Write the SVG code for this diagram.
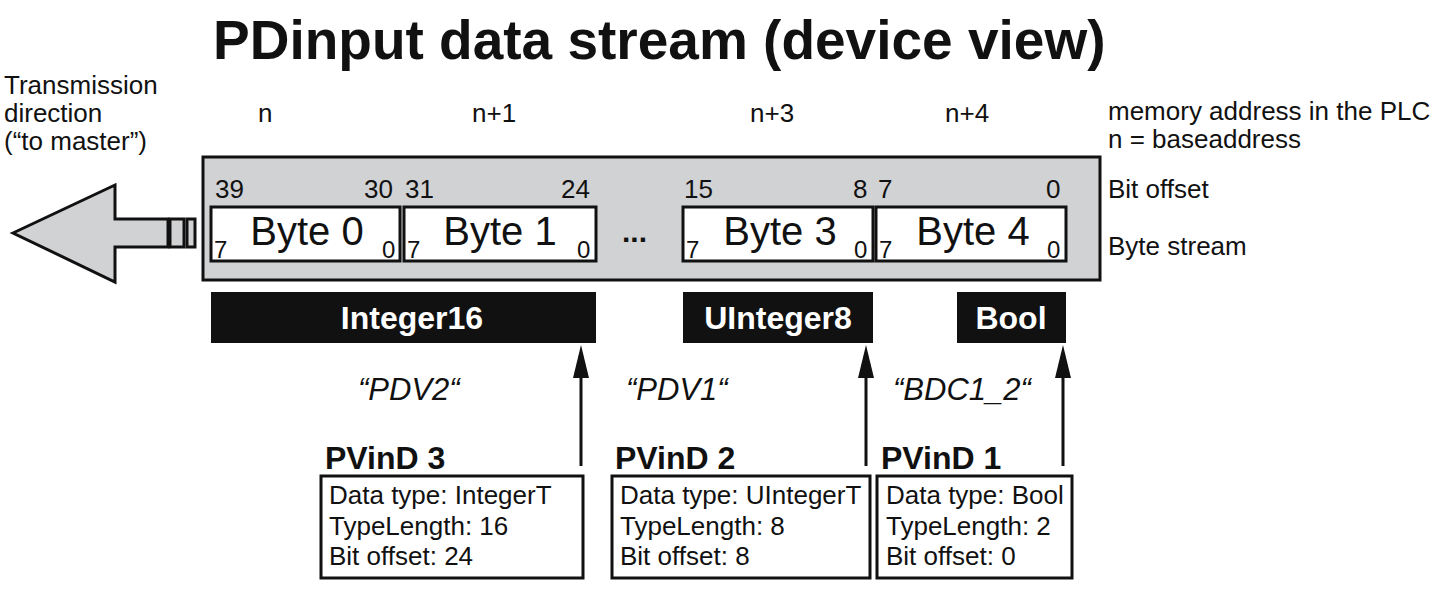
<svg xmlns="http://www.w3.org/2000/svg" width="1445" height="592" viewBox="0 0 1445 592">
<style>
text{font-family:"Liberation Sans",Arial,sans-serif;fill:#111}
.t{font-size:26px}
.b{font-size:40px}
.s{font-size:24px}
.bx{fill:#fff;stroke:#111;stroke-width:3}
.bar{fill:#111}
.bl{font-size:32px;font-weight:bold;fill:#fff}
.lbl{font-size:32px;font-weight:bold}
.q{font-size:31px;font-style:italic}
.c{stroke:#111;stroke-width:3;fill:none}
.ah{fill:#111}
</style>
<text x="213" y="59" style="font-size:55px;font-weight:bold">PDinput data stream (device view)</text>
<g id="dir"><text class="t" x="4" y="94">Transmission</text><text class="t" x="4" y="122">direction</text><text class="t" x="4" y="150">(“to master”)</text></g>
<g id="addr"><text class="t" x="258" y="122">n</text><text class="t" x="472" y="122">n+1</text><text class="t" x="750" y="122">n+3</text><text class="t" x="945" y="122">n+4</text>
<text class="t" x="1108" y="120">memory address in the PLC</text><text class="t" x="1108" y="148">n = baseaddress</text>
<text class="t" x="1108" y="198">Bit offset</text><text class="t" x="1108" y="255">Byte stream</text></g>
<g id="arrow"><polygon points="13,233 115,185 115,219 168,219 168,247 115,247 115,282" fill="#d1d2d4" stroke="#111" stroke-width="3"/>
<rect x="170" y="219" width="14" height="28" fill="#d1d2d4" stroke="#111" stroke-width="3"/><rect x="187" y="219" width="8" height="28" fill="#d1d2d4" stroke="#111" stroke-width="3"/></g>
<g id="stream"><rect x="203" y="157" width="897" height="123" fill="#d1d2d4" stroke="#111" stroke-width="3"/>
<text class="t" x="215" y="198">39</text><text class="t" x="364" y="198">30</text><text class="t" x="405" y="198">31</text><text class="t" x="561" y="198">24</text>
<text class="t" x="684" y="198">15</text><text class="t" x="853" y="198">8</text><text class="t" x="878" y="198">7</text><text class="t" x="1046" y="198">0</text>
<text x="622" y="242" style="font-size:30px;font-weight:bold">...</text></g>
<g id="byte0"><rect class="bx" x="211" y="207" width="189" height="54"/><text class="b" x="307" y="245" text-anchor="middle">Byte 0</text><text class="s" x="214" y="258">7</text><text class="s" x="382" y="258">0</text></g>
<g id="byte1"><rect class="bx" x="404" y="207" width="192" height="54"/><text class="b" x="500" y="245" text-anchor="middle">Byte 1</text><text class="s" x="407" y="258">7</text><text class="s" x="577" y="258">0</text></g>
<g id="byte3"><rect class="bx" x="683" y="207" width="190" height="54"/><text class="b" x="780" y="245" text-anchor="middle">Byte 3</text><text class="s" x="686" y="258">7</text><text class="s" x="854" y="258">0</text></g>
<g id="byte4"><rect class="bx" x="876" y="207" width="190" height="54"/><text class="b" x="973" y="245" text-anchor="middle">Byte 4</text><text class="s" x="879" y="258">7</text><text class="s" x="1047" y="258">0</text></g>
<g id="int16"><rect class="bar" x="211" y="292" width="385" height="51"/><text class="bl" x="412" y="329" text-anchor="middle">Integer16</text></g>
<g id="uint8"><rect class="bar" x="683" y="292" width="190" height="51"/><text class="bl" x="778" y="329" text-anchor="middle">UInteger8</text></g>
<g id="bool"><rect class="bar" x="957" y="292" width="109" height="51"/><text class="bl" x="1011" y="329" text-anchor="middle">Bool</text></g>
<g id="connectors"><line class="c" x1="581" y1="466" x2="581" y2="370"/><line class="c" x1="866" y1="466" x2="866" y2="370"/><line class="c" x1="1063" y1="466" x2="1063" y2="370"/>
<polygon class="ah" points="581,345 573,378 589,378"/><polygon class="ah" points="866,345 858,378 874,378"/><polygon class="ah" points="1063,345 1055,378 1071,378"/></g>
<g id="pvind3"><text class="q" x="358" y="400">“PDV2“</text><text class="lbl" x="325" y="469">PVinD 3</text><rect class="bx" x="321" y="476" width="262" height="102"/>
<text class="t" x="329" y="504">Data type: IntegerT</text><text class="t" x="329" y="535">TypeLength: 16</text><text class="t" x="329" y="565">Bit offset: 24</text></g>
<g id="pvind2"><text class="q" x="626" y="400">“PDV1“</text><text class="lbl" x="615" y="469">PVinD 2</text><rect class="bx" x="612" y="476" width="258" height="102"/>
<text class="t" x="620" y="504">Data type: UIntegerT</text><text class="t" x="620" y="535">TypeLength: 8</text><text class="t" x="620" y="565">Bit offset: 8</text></g>
<g id="pvind1"><text class="q" x="893" y="400">“BDC1_2“</text><text class="lbl" x="881" y="469">PVinD 1</text><rect class="bx" x="877" y="476" width="195" height="102"/>
<text class="t" x="886" y="504">Data type: Bool</text><text class="t" x="886" y="535">TypeLength: 2</text><text class="t" x="886" y="565">Bit offset: 0</text></g>
</svg>
